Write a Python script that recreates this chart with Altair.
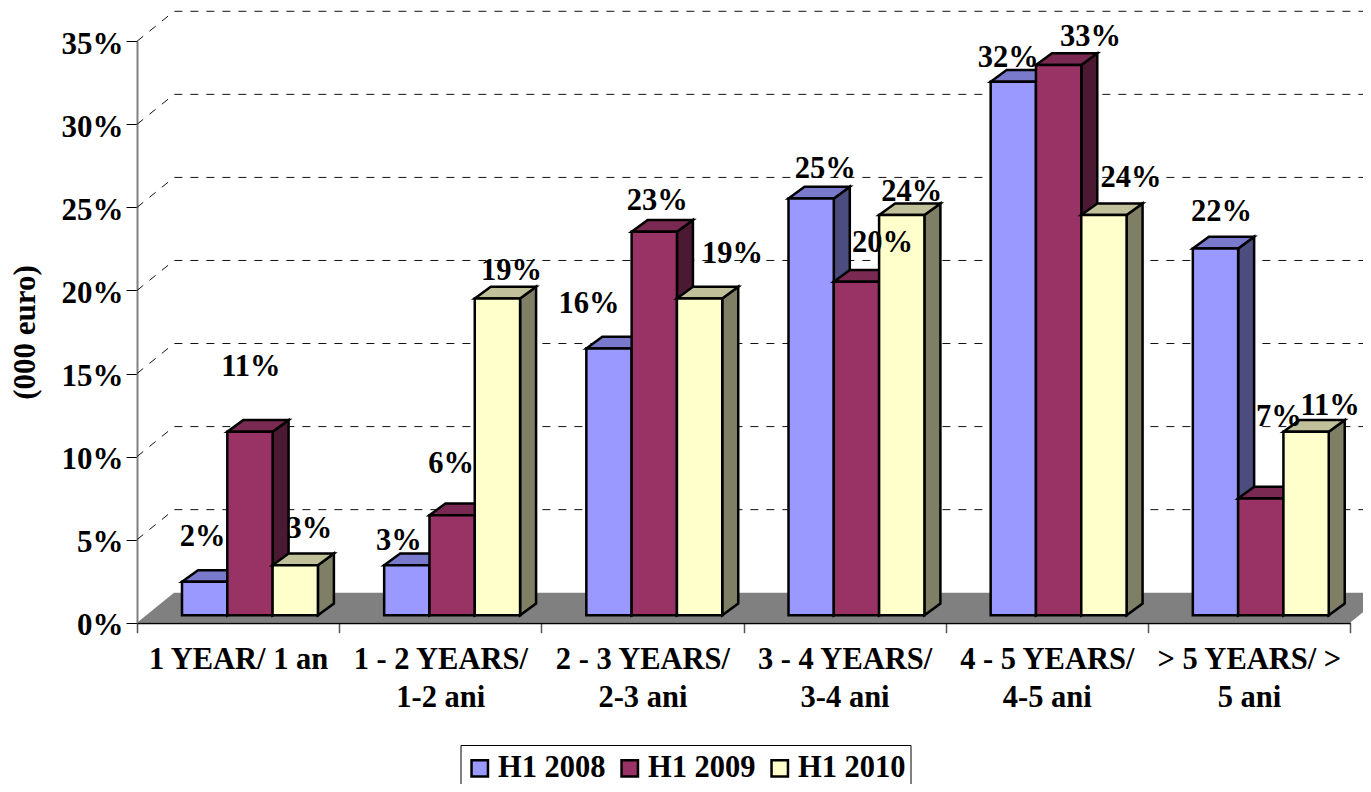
import json
import altair as alt
import pandas as pd

CATEGORIES = [
    ["1 YEAR/ 1 an"],
    ["1 - 2 YEARS/", "1-2 ani"],
    ["2 - 3 YEARS/", "2-3 ani"],
    ["3 - 4 YEARS/", "3-4 ani"],
    ["4 - 5 YEARS/", "4-5 ani"],
    ["> 5 YEARS/ >", "5 ani"],
]
SERIES = ["H1 2008", "H1 2009", "H1 2010"]
H1_2008 = [2, 3, 16, 25, 32, 22]
H1_2009 = [11, 6, 23, 20, 33, 7]
H1_2010 = [3, 19, 19, 24, 24, 11]
VALUES = [H1_2008, H1_2009, H1_2010]
TICKS = [0, 5, 10, 15, 20, 25, 30, 35]

FRONT = ["#9999FF", "#993366", "#FFFFCC"]
TOP = ["#7A7ACC", "#7A2952", "#C0C09A"]
SIDE = ["#4C4C7F", "#4C1933", "#7F7F66"]

# label shifts from the top centre of each bar, in pixels (right, down)
LABEL_SHIFT = [
    [(-2, -45), (-8, -24), (-20, -45), (14, -31), (-5, -26), (6, -38)],
    [(1, -65), (-1, -52), (3, -32), (26, -40), (32, -30), (18, -82)],
    [(14, -36), (14, -29), (33, -46), (10, -25), (27, -39), (24, -26)],
]

W, H = 1355, 776
X0, X6 = 129.0, 1342.0
Y0, Y35 = 614.7, 33.3
PX = (X6 - X0) / 6
PY = (Y0 - Y35) / 35
xs = alt.Scale(domain=[0, 6], range=[X0, X6], nice=False, zero=False)
ys = alt.Scale(domain=[0, 35], range=[Y0, Y35], nice=False, zero=False)

WALL_X, WALL_Y = 37 / PX, 30 / PY
BASE_Y = 7.5 / PY
BAR_START, BAR_W = 45 / PX, 45.3 / PX
BAR_DX, BAR_DY = 16 / PX, 11.7 / PY
BAR_GAIN = 1.0036

label_lines = json.dumps(CATEGORIES + [""])
X_AXIS = alt.Axis(
    values=list(range(7)), orient="bottom", offset=-(H - Y0), grid=False, title=None,
    domainColor="black", domainWidth=2, tickColor="#555555", tickWidth=1.5, tickSize=10,
    labelFont="Liberation Serif", labelFontWeight="bold", labelFontSize=30.5,
    labelColor="black", labelOffset=PX / 2, labelPadding=12, labelLineHeight=38, labelLimit=400,
    labelAlign="center", labelBaseline="top", labelOverlap=False, labelBound=False, labelFlush=False,
    labelExpr=f"{label_lines}[datum.value]")
Y_AXIS = alt.Axis(
    values=TICKS, orient="left", offset=-X0, grid=False, title="(000 euro)",
    domainColor="#808080", domainWidth=2, tickColor="black", tickWidth=1, tickSize=11,
    labelFont="Liberation Serif", labelFontWeight="bold", labelFontSize=31,
    labelColor="black", labelPadding=3, labelOffset=3, labelOverlap=False,
    labelExpr="datum.value + '%'",
    titleFont="Liberation Serif", titleFontWeight="bold", titleFontSize=31, titleColor="black",
    titleAngle=270, titleX=-112, titleY=324, titleAlign="center", titleBaseline="middle")


def X(f):
    return alt.X(f, scale=xs, axis=X_AXIS, title=None)


def Y(f):
    return alt.Y(f, scale=ys, axis=Y_AXIS, title="(000 euro)")


layers = []

floor = pd.DataFrame({"y": [0, WALL_Y], "xl": [0, WALL_X], "xr": [6, 6 + WALL_X]})
layers.append(
    alt.Chart(floor).mark_area(color="#808080", orient="horizontal", clip=True).encode(
        x=X("xl:Q"), x2="xr:Q", y=Y("y:Q"),
    )
)

# dashed wall grid
grid_rows = []
for t in TICKS[1:]:
    grid_rows += [
        {"t": t, "o": 0, "x": 0, "y": t},
        {"t": t, "o": 1, "x": WALL_X, "y": t + WALL_Y},
        {"t": t, "o": 2, "x": 6 + WALL_X, "y": t + WALL_Y},
    ]
layers.append(
    alt.Chart(pd.DataFrame(grid_rows)).mark_line(color="#111111", strokeWidth=1, strokeDash=[8, 8], clip=True).encode(
        x=X("x:Q"), y=Y("y:Q"), detail="t:N", order="o:Q",
    )
)

label_rows = []
for s, (name, vals) in enumerate(zip(SERIES, VALUES)):
    fronts, sides, tops = [], [], []
    for c, v in enumerate(vals):
        x1 = c + BAR_START + s * BAR_W
        x2 = x1 + BAR_W
        y1 = v * BAR_GAIN + BASE_Y
        fronts.append({"series": name, "x1": x1, "x2": x2, "y1": y1, "y2": BASE_Y})
        sides += [
            {"id": c, "x": x2, "hi": y1, "lo": BASE_Y},
            {"id": c, "x": x2 + BAR_DX, "hi": y1 + BAR_DY, "lo": BASE_Y + BAR_DY},
        ]
        tops += [
            {"id": c, "y": y1, "xl": x1, "xr": x2},
            {"id": c, "y": y1 + BAR_DY, "xl": x1 + BAR_DX, "xr": x2 + BAR_DX},
        ]
        dx, dy = LABEL_SHIFT[s][c]
        label_rows.append({"text": f"{v}%", "x": (x1 + x2) / 2 + dx / PX, "y": v + BASE_Y - dy / PY})
    layers.append(
        alt.Chart(pd.DataFrame(sides)).mark_area(color=SIDE[s], stroke="black", strokeWidth=2.5, orient="vertical").encode(
            x=X("x:Q"), y=Y("hi:Q"), y2="lo:Q", detail="id:N",
        )
    )
    layers.append(
        alt.Chart(pd.DataFrame(tops)).mark_area(color=TOP[s], stroke="black", strokeWidth=2.5, orient="horizontal").encode(
            y=Y("y:Q"), x=X("xl:Q"), x2="xr:Q", detail="id:N",
        )
    )
    layers.append(
        alt.Chart(pd.DataFrame(fronts)).mark_rect(stroke="black", strokeWidth=2.5).encode(
            x=X("x1:Q"), x2="x2:Q", y=Y("y1:Q"), y2="y2:Q",
            color=alt.Color("series:N", scale=alt.Scale(domain=SERIES, range=FRONT), legend=alt.Legend(
                title=" ", titleFontSize=4, titlePadding=0, orient="none", legendX=452.5, legendY=737,
                direction="horizontal", columns=3,
                symbolType="square", symbolSize=270, symbolStrokeWidth=2.5, symbolStrokeColor="black",
                labelFont="Liberation Serif", labelFontWeight="bold", labelFontSize=30.5, labelColor="black",
                labelOffset=3, columnPadding=8, padding=4, fillColor="white", strokeColor="black",
                symbolOpacity=1, labelLimit=300)),
        )
    )

layers.append(
    alt.Chart(pd.DataFrame(label_rows)).mark_text(
        font="Liberation Serif", fontWeight="bold", fontSize=30.5, color="black", align="center", baseline="middle"
    ).encode(
        x=X("x:Q"), y=Y("y:Q"), text="text:N",
    )
)

chart = alt.layer(*layers).properties(
    width=W, height=H, padding=0, autosize=alt.AutoSizeParams(type="none"), background="white"
).configure_view(stroke=None)

chart.save("out.html", embed_options={"renderer": "svg", "actions": False})
